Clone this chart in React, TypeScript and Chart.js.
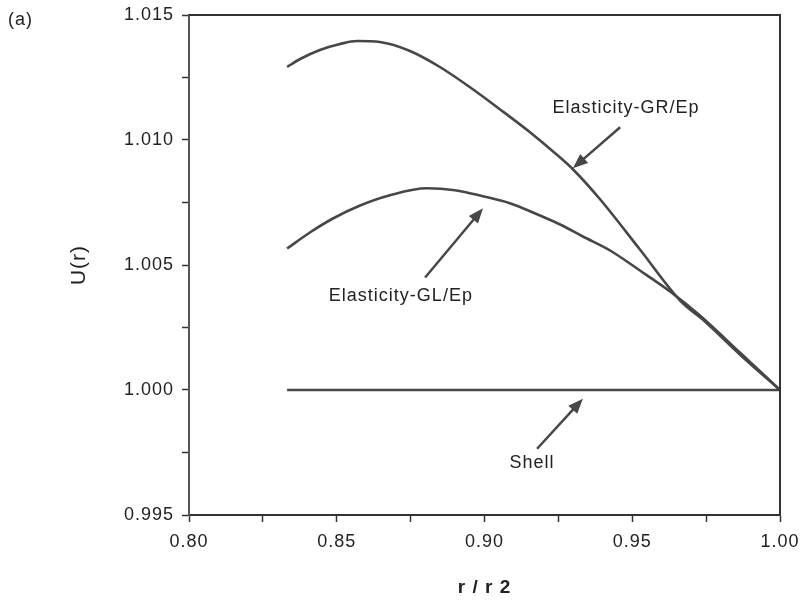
import { useEffect, useRef } from "react";
import { Chart, registerables } from "chart.js";

Chart.register(...registerables);

// r / r2 and U(r) values
const grR = [0.8332, 0.8376, 0.8443, 0.8511, 0.8569, 0.8646, 0.8748, 0.8849, 0.8951, 0.9052, 0.9154, 0.9239, 0.9299, 0.9391, 0.9526, 0.9662, 0.9746, 0.9865, 1.0];
const grU = [1.01292, 1.01324, 1.0136, 1.01384, 1.01396, 1.01392, 1.01356, 1.01292, 1.01211, 1.01123, 1.01031, 1.00947, 1.00883, 1.00763, 1.00562, 1.00358, 1.00274, 1.00141, 1.0];

const glR = [0.8332, 0.8409, 0.8487, 0.8579, 0.868, 0.8805, 0.89, 0.8995, 0.9086, 0.9164, 0.9256, 0.9333, 0.9425, 0.9526, 0.9628, 0.9729, 0.9865, 1.0];
const glU = [1.00566, 1.0063, 1.00686, 1.00738, 1.00779, 1.00807, 1.00799, 1.00775, 1.00747, 1.0071, 1.00662, 1.00614, 1.00558, 1.00478, 1.00394, 1.00298, 1.00149, 1.0];

const shellR = [0.8332, 1.0];
const shellU = [1.0, 1.0];

const seriesNames = ["Elasticity-GR/Ep", "Elasticity-GL/Ep", "Shell"];

const xTickLabels = ["0.80", "0.85", "0.90", "0.95", "1.00"];
const yTickLabels = ["0.995", "1.000", "1.005", "1.010", "1.015"];

// annotation label + arrow (tail -> head), in data coordinates
const annotations = [
  { text: seriesNames[0], tx: 0.9479, ty: 1.01127, fx: 0.9459, fy: 1.01051, hx: 0.9299, hy: 1.00887 },
  { text: seriesNames[1], tx: 0.8717, ty: 1.00374, fx: 0.8799, fy: 1.0045, hx: 0.8995, hy: 1.00727 },
  { text: seriesNames[2], tx: 0.9161, ty: 0.99708, fx: 0.9178, fy: 0.99765, hx: 0.9333, hy: 0.99965 },
];

const panelLabel = "(a)";

const toPoints = (xs: number[], ys: number[]) => xs.map((x, i) => ({ x, y: ys[i] }));

const LINE = "#474747";
const INK = "#222";
const FONT = "'Liberation Sans', Arial, Helvetica, sans-serif";

const framePlugin = {
  id: "frame",
  beforeDraw(chart: any) {
    chart.ctx.letterSpacing = "1px";
  },
  afterDatasetsDraw(chart: any) {
    const { ctx, chartArea, scales } = chart;
    const { left, right, top, bottom } = chartArea;
    ctx.save();
    ctx.strokeStyle = "#333";
    ctx.lineWidth = 2;
    ctx.beginPath();
    ctx.moveTo(left, top);
    ctx.lineTo(right, top);
    ctx.lineTo(right, bottom);
    ctx.stroke();

    ctx.fillStyle = INK;
    ctx.font = `18px ${FONT}`;
    ctx.textAlign = "center";
    ctx.textBaseline = "middle";
    for (const a of annotations) {
      const tx = scales.x.getPixelForValue(a.tx);
      const ty = scales.y.getPixelForValue(a.ty);
      ctx.fillText(a.text, tx, ty);
      const fx = scales.x.getPixelForValue(a.fx);
      const fy = scales.y.getPixelForValue(a.fy);
      const hx = scales.x.getPixelForValue(a.hx);
      const hy = scales.y.getPixelForValue(a.hy);
      const ang = Math.atan2(hy - fy, hx - fx);
      const headLen = 15;
      const headW = 6;
      const bx = hx - headLen * Math.cos(ang);
      const by = hy - headLen * Math.sin(ang);
      ctx.strokeStyle = LINE;
      ctx.lineWidth = 2.5;
      ctx.beginPath();
      ctx.moveTo(fx, fy);
      ctx.lineTo(bx + 3 * Math.cos(ang), by + 3 * Math.sin(ang));
      ctx.stroke();
      ctx.fillStyle = LINE;
      ctx.beginPath();
      ctx.moveTo(hx, hy);
      ctx.lineTo(bx + headW * Math.sin(ang), by - headW * Math.cos(ang));
      ctx.lineTo(bx - headW * Math.sin(ang), by + headW * Math.cos(ang));
      ctx.closePath();
      ctx.fill();
      ctx.fillStyle = INK;
    }

    ctx.textAlign = "left";
    ctx.fillText(panelLabel, 8, 20);
    ctx.restore();
  },
};

export default function App() {
  const ref = useRef<HTMLCanvasElement | null>(null);

  useEffect(() => {
    if (!ref.current) return;
    const lineStyle = {
      borderColor: LINE,
      borderWidth: 2.6,
      pointRadius: 0,
      fill: false,
      cubicInterpolationMode: "monotone" as const,
    };
    const chart = new Chart(ref.current, {
      type: "line",
      data: {
        datasets: [
          { label: seriesNames[0], data: toPoints(grR, grU), ...lineStyle },
          { label: seriesNames[1], data: toPoints(glR, glU), ...lineStyle },
          { label: seriesNames[2], data: toPoints(shellR, shellU), ...lineStyle },
        ],
      },
      options: {
        responsive: false,
        animation: false,
        layout: { padding: { top: 15, right: 21, left: 0, bottom: 0 } },
        plugins: {
          legend: { display: false },
          tooltip: { enabled: false },
        },
        scales: {
          x: {
            type: "linear",
            min: 0.8,
            max: 1.0,
            afterFit: (s: any) => {
              s.height = 87;
              s.paddingLeft = 0;
              s.paddingRight = 0;
            },
            ticks: {
              stepSize: 0.025,
              autoSkip: false,
              maxRotation: 0,
              padding: 9,
              color: INK,
              font: { size: 18, family: FONT },
              callback: (v: any) => {
                const t = Number(v).toFixed(2);
                return xTickLabels.includes(t) && Math.round(Number(v) * 40) % 2 === 0 ? t : "";
              },
            },
            grid: { drawOnChartArea: false, tickLength: 7, tickColor: "#333", tickWidth: 1.5 },
            border: { display: true, color: "#333", width: 2 },
            title: {
              display: true,
              text: "r / r 2",
              color: INK,
              font: { size: 19, weight: "bold", family: FONT },
              padding: { top: 0, bottom: 3 },
            },
          },
          y: {
            type: "linear",
            min: 0.995,
            max: 1.015,
            afterFit: (s: any) => {
              s.width = 189;
              s.paddingTop = 0;
              s.paddingBottom = 0;
            },
            ticks: {
              stepSize: 0.0025,
              autoSkip: false,
              padding: 8,
              color: INK,
              font: { size: 18, family: FONT },
              callback: (v: any) => {
                const t = Number(v).toFixed(3);
                return yTickLabels.includes(t) && Math.round(Number(v) * 400) % 2 === 0 ? t : "";
              },
            },
            grid: { drawOnChartArea: false, tickLength: 7, tickColor: "#333", tickWidth: 1.5 },
            border: { display: true, color: "#555", width: 2 },
            title: {
              display: true,
              text: "U(r)",
              color: INK,
              font: { size: 21, family: FONT },
              padding: { top: 67, bottom: 0 },
            },
          },
        },
      },
      plugins: [framePlugin],
    });
    return () => chart.destroy();
  }, []);

  return (
    <div style={{ position: "fixed", left: 0, top: 0, width: 801, height: 602, background: "#fff" }}>
      <canvas ref={ref} width={801} height={602} />
    </div>
  );
}
